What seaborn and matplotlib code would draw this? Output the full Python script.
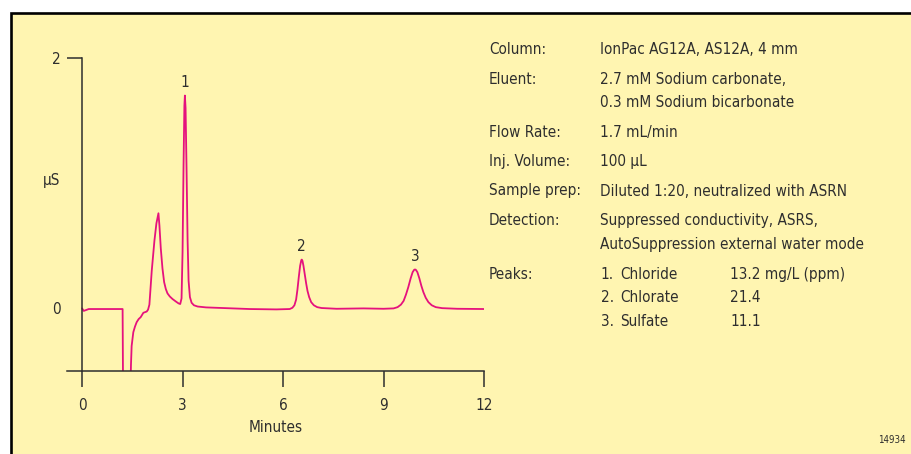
"""
Ion chromatogram of a diluted sample: chloride, chlorate and sulfate on IonPac AS12A.
"""

import matplotlib.pyplot as plt
import numpy as np
import seaborn as sns
from matplotlib.patches import Rectangle

# Chromatogram trace (minutes, µS)
times = [0.0, 0.05, 0.1, 0.2, 0.4, 0.8, 1.21, 1.225, 1.44, 1.46, 1.48, 1.53, 1.58,
         1.63, 1.69, 1.75, 1.83, 1.88, 1.93, 1.97, 2.01, 2.08, 2.16, 2.22, 2.28,
         2.31, 2.35, 2.40, 2.45, 2.50, 2.55, 2.62, 2.70, 2.80, 2.88, 2.93, 2.97,
         3.00, 3.03, 3.055, 3.07, 3.09, 3.12, 3.15, 3.18, 3.22, 3.27, 3.34, 3.45,
         3.7, 4.2, 5.0, 5.8, 6.2, 6.28, 6.34, 6.39, 6.43, 6.47, 6.51, 6.545, 6.56,
         6.58, 6.61, 6.65, 6.69, 6.73, 6.78, 6.84, 6.92, 7.02, 7.15, 7.6, 8.4, 9.0,
         9.3, 9.42, 9.52, 9.6, 9.67, 9.74, 9.81, 9.87, 9.92, 9.96, 10.01, 10.07,
         10.13, 10.19, 10.26, 10.34, 10.44, 10.56, 10.75, 11.2, 12.0]
signal = [0.0, -0.02, -0.015, -0.005, -0.005, -0.005, -0.005, -0.7, -0.7, -0.45,
          -0.30, -0.19, -0.145, -0.11, -0.085, -0.07, -0.035, -0.03, -0.025, -0.01,
          0.03, 0.30, 0.54, 0.68, 0.76, 0.66, 0.48, 0.32, 0.21, 0.155, 0.12, 0.095,
          0.075, 0.055, 0.04, 0.035, 0.08, 0.45, 1.15, 1.62, 1.70, 1.60, 1.10, 0.55,
          0.22, 0.09, 0.045, 0.025, 0.015, 0.008, 0.003, -0.005, -0.008, -0.005,
          0.005, 0.025, 0.07, 0.15, 0.25, 0.34, 0.385, 0.39, 0.38, 0.34, 0.27, 0.20,
          0.14, 0.09, 0.05, 0.025, 0.01, 0.003, -0.003, 0.0, -0.003, 0.0, 0.01, 0.03,
          0.06, 0.11, 0.17, 0.24, 0.29, 0.31, 0.31, 0.29, 0.24, 0.18, 0.13, 0.085,
          0.05, 0.025, 0.01, 0.002, -0.003, -0.005]

peak_labels = ["1", "2", "3"]
peak_times = [3.07, 6.56, 9.94]

x_ticks = [0, 3, 6, 9, 12]

# Conditions panel
info_labels = ["Column:", "Eluent:", "", "Flow Rate:", "Inj. Volume:", "Sample prep:",
               "Detection:", "", "Peaks:", "", ""]
info_values = ["IonPac AG12A, AS12A, 4 mm", "2.7 mM Sodium carbonate,",
               "0.3 mM Sodium bicarbonate", "1.7 mL/min", "100 µL",
               "Diluted 1:20, neutralized with ASRN", "Suppressed conductivity, ASRS,",
               "AutoSuppression external water mode", "1.", "2.", "3."]
peak_names = ["Chloride", "Chlorate", "Sulfate"]
peak_conc = ["13.2 mg/L (ppm)", "21.4", "11.1"]

W, H = 911, 454
BG = "#FFF5B1"
INK = "#2E2E2E"
TRACE = "#E5127D"
FS = 11

sns.set_style("ticks")
plt.rcParams["font.family"] = ["DejaVu Sans"]
plt.rcParams["font.stretch"] = "condensed"
plt.rcParams["text.color"] = INK


def fx(px):
    return px / W


def fy(py):
    return 1 - py / H


fig = plt.figure(figsize=(W / 100, H / 100), dpi=100)
fig.patch.set_facecolor("white")
# yellow panel with black frame on top/left only (rest runs off the image)
fig.patches.append(Rectangle((fx(10.5), -0.2), 1.2, fy(13.5) + 0.2, transform=fig.transFigure,
                             facecolor=BG, edgecolor="black", linewidth=1.9, zorder=0))

ax = fig.add_axes([fx(67), fy(371), fx(484) - fx(67), fy(58) - fy(371)])
ax.set_facecolor("none")
ax.set_zorder(2)

sns.lineplot(x=times, y=signal, sort=False, color=TRACE, linewidth=1.3, ax=ax)

ax.set_xlim(-0.45, 12)
ax.set_ylim(-0.5, 2)

for side in ("top", "right"):
    ax.spines[side].set_visible(False)
ax.spines["left"].set_position(("data", 0))
ax.spines["left"].set_bounds(-0.5, 2)
for side in ("left", "bottom"):
    ax.spines[side].set_color(INK)
    ax.spines[side].set_linewidth(1.1)

ax.set_xticks(x_ticks)
ax.set_xticklabels([str(t) for t in x_ticks])
ax.tick_params(axis="x", direction="out", length=11.5, width=1.1, color=INK,
               labelsize=FS, labelcolor=INK, pad=8)

ax.set_yticks([2])
ax.set_yticklabels(["2"])
ax.set_yticks([0], minor=True)
ax.set_yticklabels(["0"], minor=True)
ax.tick_params(axis="y", which="major", direction="out", length=11, width=1.1, color=INK,
               labelsize=FS, labelcolor=INK, pad=4)
ax.tick_params(axis="y", which="minor", length=0, labelsize=FS, labelcolor=INK, pad=15)

ax.set_xlabel("Minutes", fontsize=FS, color=INK, labelpad=5)
ax.set_ylabel("")
fig.text(fx(52), fy(181), "µS", fontsize=FS, ha="center", va="center")

# peak numbers above the apexes
for lab, t in zip(peak_labels, peak_times):
    top = np.interp(t, times, signal)
    ax.annotate(lab, (t, top), xytext=(0, 4), textcoords="offset points",
                ha="center", va="bottom", fontsize=FS, color=INK)

# conditions text
row_y = [50, 79.3, 102.7, 132.7, 161.7, 191, 220.7, 244.3, 274.3, 297.7, 321]
for lab, val, y in zip(info_labels, info_values, row_y):
    fig.text(fx(489), fy(y), lab, fontsize=FS, va="center", ha="left")
    fig.text(fx(600.5), fy(y), val, fontsize=FS, va="center", ha="left")
for name, conc, y in zip(peak_names, peak_conc, row_y[-3:]):
    fig.text(fx(620.5), fy(y), name, fontsize=FS, va="center", ha="left")
    fig.text(fx(730), fy(y), conc, fontsize=FS, va="center", ha="left")

fig.text(fx(906), fy(440), "14934", fontsize=7, ha="right", va="center")

fig.savefig("out.png", dpi=100, facecolor="white")
plt.close(fig)
